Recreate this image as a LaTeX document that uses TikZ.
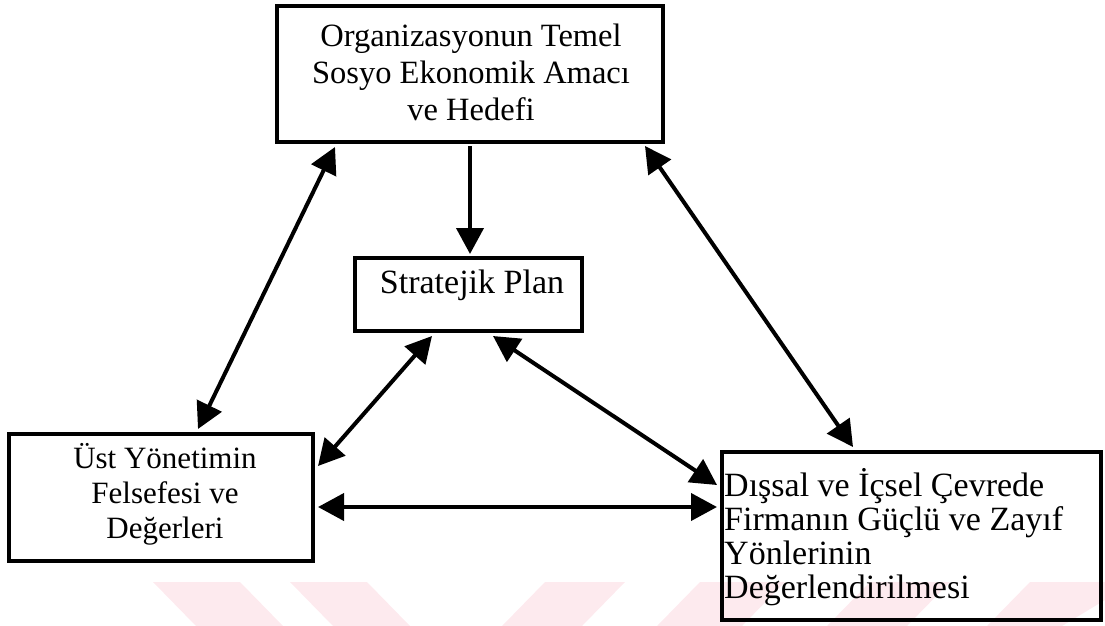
\documentclass[tikz,border=0pt]{standalone}
\usepackage{fontspec}
\setmainfont{Liberation Serif}
\usetikzlibrary{arrows.meta,calc}
\definecolor{wmpink}{RGB}{253,234,238}
\begin{document}
\begin{tikzpicture}[x=1pt,y=-1pt,
  box/.style={draw,line width=4pt,inner sep=0pt},
  label/.style={inner sep=0pt,align=center},
  link/.style={line width=4pt,{Triangle[length=26pt,width=27pt]}-{Triangle[length=26pt,width=27pt]}},
  oneway/.style={line width=4pt,-{Triangle[length=26pt,width=27pt]}},
  stripe/.style={fill=wmpink,draw=none}]
\useasboundingbox (0,0) rectangle (1105,626);

% faint slanted band along the foot of the page
\fill[stripe] (153,582) -- (240,582) -- (283,626) -- (196,626) -- cycle;
\fill[stripe] (290,582) -- (367,582) -- (410,626) -- (333,626) -- cycle;
\fill[stripe] (545,582) -- (625,582) -- (582,626) -- (502,626) -- cycle;
\fill[stripe] (700,582) -- (785,582) -- (742,626) -- (657,626) -- cycle;
\fill[stripe] (870,582) -- (950,582) -- (907,626) -- (827,626) -- cycle;
\fill[stripe] (1030,582) -- (1105,582) -- (1105,600) -- (1062,626) -- (987,626) -- cycle;

% boxes
\node[box,minimum width=386pt,minimum height=136pt] (top) at (470,74) {};
\node[box,minimum width=227pt,minimum height=73pt] (strat) at (468.5,294.5) {};
\node[box,minimum width=304pt,minimum height=127pt] (left) at (161,497.5) {};
\node[box,minimum width=379pt,minimum height=168pt] (right) at (911.5,536) {};

% texts
\node[label,font=\fontsize{32.5}{37}\selectfont] (toptxt) at (471,72)
  {Organizasyonun Temel\\Sosyo Ekonomik Amacı\\ve Hedefi};
\node[label,font=\fontsize{34}{40}\selectfont,anchor=base] (strattxt) at (472,293) {Stratejik Plan};
\node[label,font=\fontsize{31}{35}\selectfont] (lefttxt) at (165,494)
  {Üst Yönetimin\\Felsefesi ve\\Değerleri};
\node[label,align=left,anchor=west,font=\fontsize{34}{34}\selectfont] (righttxt) at (724,537)
  {Dışsal ve İçsel Çevrede\\Firmanın Güçlü ve Zayıf\\Yönlerinin\\Değerlendirilmesi};

% connectors
\draw[link] ($(top.south)+(-135,3)$) -- ($(left.north)+(37,-3)$);
\draw[oneway] ($(top.south)+(0,2)$) -- ($(strat.north)+(1.5,-2)$);
\draw[link] ($(top.south)+(175,2)$) -- ($(right.north)+(-58.5,-3)$);
\draw[link] ($(strat.south)+(-36.5,3)$) -- ($(left.east)+(3,-31.5)$);
\draw[link] ($(strat.south)+(24.5,3)$) -- ($(right.west)+(-3,-51)$);
\draw[link] ($(left.east)+(3,9.5)$) -- ($(right.west)+(-3,-29)$);
\end{tikzpicture}
\end{document}
